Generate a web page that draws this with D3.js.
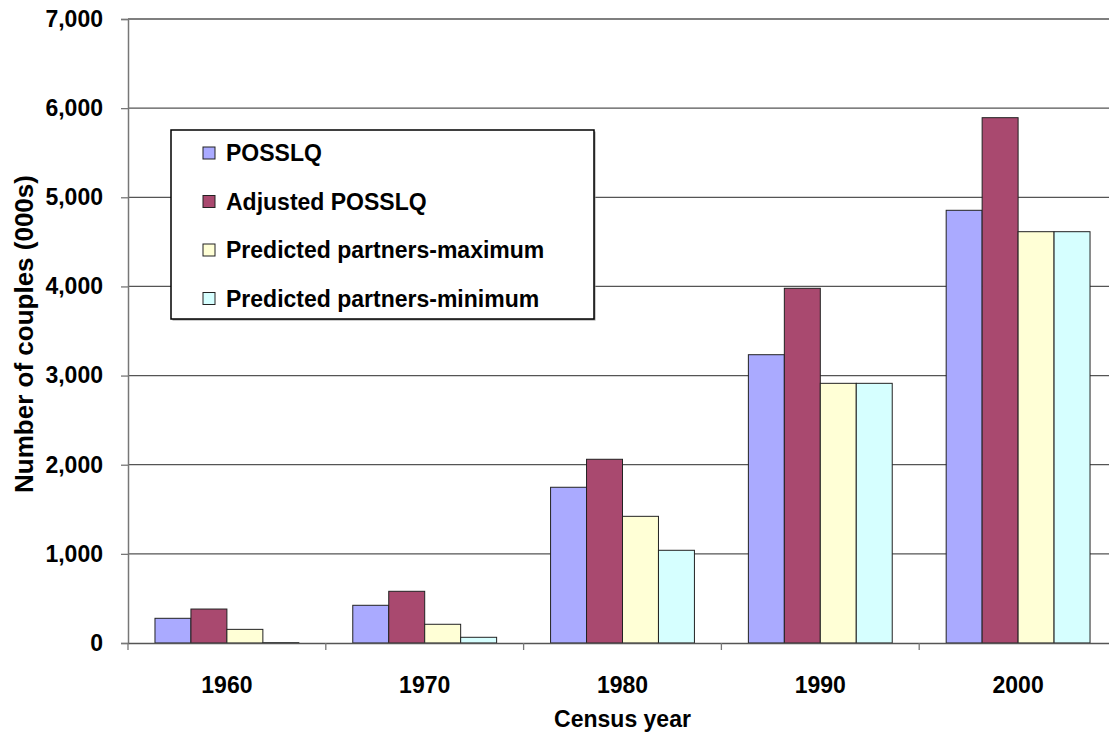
<!DOCTYPE html>
<html>
<head>
<meta charset="utf-8">
<script src="https://cdn.jsdelivr.net/npm/d3@7"></script>
<style>
  body { margin: 0; background: #fff; }
  svg { display: block; font-family: Arial, "Liberation Sans", sans-serif; font-weight: bold; }
</style>
</head>
<body>
<svg id="chart"></svg>
<script>
// data (thousands of couples)
const years = ["1960", "1970", "1980", "1990", "2000"];
const seriesNames = ["POSSLQ", "Adjusted POSSLQ", "Predicted partners-maximum", "Predicted partners-minimum"];
const posslq = [277, 423, 1747, 3234, 4854];
const adjustedPosslq = [381, 580, 2061, 3979, 5893];
const partnersMax = [153, 210, 1421, 2913, 4614];
const partnersMin = [4, 64, 1040, 2913, 4614];
const yTicks = [0, 1000, 2000, 3000, 4000, 5000, 6000, 7000];
const colors = ["#AAAAFF", "#A9496F", "#FFFFD6", "#D6FFFF"];

const width = 1109, height = 738;
const margin = { top: 19, right: -8, bottom: 95, left: 128 };

const svg = d3.select("#chart")
  .attr("width", width)
  .attr("height", height);

const values = [posslq, adjustedPosslq, partnersMax, partnersMin];

const x0 = d3.scaleBand()
  .domain(years)
  .range([margin.left, width - margin.right])
  .padding(0);

const x1 = d3.scaleBand()
  .domain(seriesNames)
  .range([0, x0.bandwidth()])
  .paddingInner(0)
  .paddingOuter(0.75);

const y = d3.scaleLinear()
  .domain([0, 7000])
  .range([height - margin.bottom, margin.top]);

// gridlines
svg.append("g")
  .selectAll("line")
  .data(yTicks.slice(1))
  .enter().append("line")
    .attr("x1", margin.left)
    .attr("x2", width - margin.right)
    .attr("y1", d => y(d))
    .attr("y2", d => y(d))
    .attr("stroke", "#555")
    .attr("stroke-width", 1.3);

// bars
const groups = svg.append("g")
  .selectAll("g")
  .data(years)
  .enter().append("g")
    .attr("transform", d => `translate(${x0(d)},0)`);

groups.selectAll("rect")
  .data((yr, i) => seriesNames.map((s, j) => ({ s, j, v: values[j][i] })))
  .enter().append("rect")
    .attr("x", d => x1(d.s))
    .attr("y", d => y(d.v))
    .attr("width", x1.bandwidth())
    .attr("height", d => y(0) - y(d.v))
    .attr("fill", d => colors[d.j])
    .attr("stroke", "#222")
    .attr("stroke-width", 1);

// y axis
const yAxis = svg.append("g")
  .attr("transform", `translate(${margin.left},0)`)
  .call(d3.axisLeft(y).tickValues(yTicks).tickFormat(d3.format(",")).tickSize(7).tickPadding(18));
yAxis.select(".domain").attr("stroke", "#777").attr("stroke-width", 1.5);
yAxis.selectAll(".tick line").attr("stroke", "#777").attr("stroke-width", 1.3);
yAxis.selectAll("text")
  .attr("font-size", 23)
  .attr("font-weight", "bold")
  .attr("fill", "#000");

// x axis
const xAxis = svg.append("g")
  .attr("transform", `translate(0,${y(0)})`)
  .call(d3.axisBottom(x0).tickSize(0).tickPadding(34));
xAxis.select(".domain").attr("stroke", "#555").attr("stroke-width", 1.5);
xAxis.selectAll("text")
  .attr("font-size", 23)
  .attr("font-weight", "bold")
  .attr("fill", "#000");

// category separators
svg.append("g")
  .selectAll("line")
  .data(years)
  .enter().append("line")
    .attr("x1", d => x0(d))
    .attr("x2", d => x0(d))
    .attr("y1", y(0))
    .attr("y2", y(0) + 7)
    .attr("stroke", "#777")
    .attr("stroke-width", 1.3);

// axis titles
svg.append("text")
  .attr("x", (margin.left + width - margin.right) / 2)
  .attr("y", 727)
  .attr("text-anchor", "middle")
  .attr("font-size", 23)
  .text("Census year");

svg.append("text")
  .attr("transform", `translate(33,${(margin.top + y(0)) / 2 + 3}) rotate(-90)`)
  .attr("text-anchor", "middle")
  .attr("font-size", 26)
  .text("Number of couples (000s)");

// legend
const legend = svg.append("g").attr("transform", "translate(171,130)");
legend.append("rect")
  .attr("x", 1.5).attr("y", 1.5)
  .attr("width", 423).attr("height", 189)
  .attr("fill", "#999");
legend.append("rect")
  .attr("width", 423).attr("height", 189)
  .attr("fill", "#fff")
  .attr("stroke", "#000")
  .attr("stroke-width", 1.5);

const item = legend.selectAll(".item")
  .data(seriesNames)
  .enter().append("g")
    .attr("class", "item")
    .attr("transform", (d, i) => `translate(0,${23 + i * 48.5})`);

item.append("rect")
  .attr("x", 32).attr("y", -6)
  .attr("width", 12).attr("height", 12)
  .attr("fill", (d, i) => colors[i])
  .attr("stroke", "#222")
  .attr("stroke-width", 1);

item.append("text")
  .attr("x", 55)
  .attr("y", 8)
  .attr("font-size", 23)
  .text(d => d);
</script>
</body>
</html>
